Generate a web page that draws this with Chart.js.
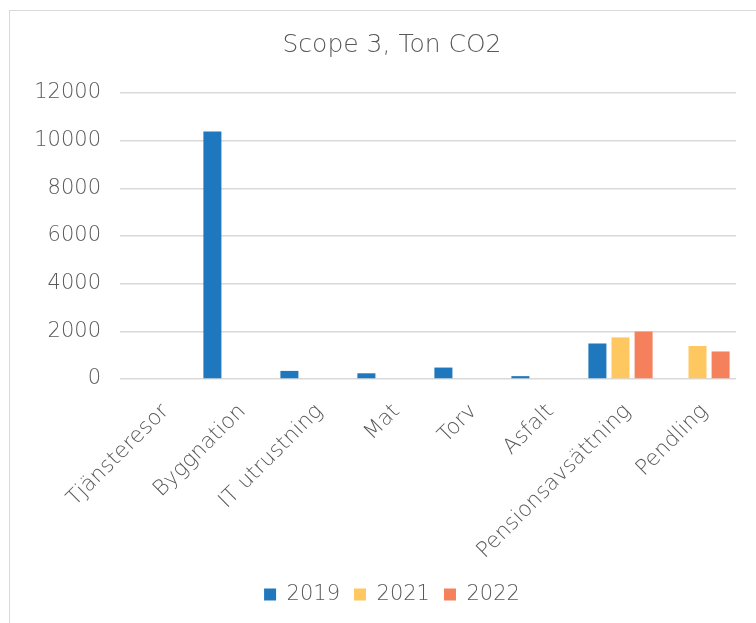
<!DOCTYPE html>
<html>
<head>
<meta charset="utf-8">
<script src="https://cdn.jsdelivr.net/npm/chart.js@4"></script>
<style>
  html, body { margin: 0; padding: 0; background: #fff; }
  #wrap { position: relative; width: 756px; height: 623px; overflow: hidden; }
  #frame {
    position: absolute; left: 9px; top: 10px; width: 800px; height: 700px;
    border-left: 1.5px solid #d9d9d9; border-top: 1.5px solid #d9d9d9;
  }
  canvas { position: absolute; left: 0; top: 0; }
</style>
</head>
<body>
<div id="wrap">
  <div id="frame"></div>
  <canvas id="scopeChart" width="756" height="623"></canvas>
</div>
<script>
// Kategorier och värden (ton CO2)
const categories = ["Tjänsteresor", "Byggnation", "IT utrustning", "Mat", "Torv", "Asfalt", "Pensionsavsättning", "Pendling"];
const values2019 = [null, 10380, 340, 240, 480, 120, 1490, null];
const values2021 = [null, null, null, null, null, null, 1745, 1385];
const values2022 = [null, null, null, null, null, null, 1990, 1155];
const yTicks = [0, 2000, 4000, 6000, 8000, 10000, 12000];

const FONT = "'DejaVu Sans', sans-serif";
const TEXT = "#595959";

function makeSet(label, data, color) {
    return {
        label,
        data,
        backgroundColor: color,
        borderWidth: 0,
        categoryPercentage: 0.9,
        barPercentage: 0.78
    };
}

// flyttar rubrik och legend lite åt höger, som i Excel-originalet
const centerShift = {
    id: "centerShift",
    afterLayout(chart) {
        for (const box of [chart.legend, chart.titleBlock]) {
            if (!box) continue;
            box.left += 24;
            box.right += 24;
        }
    }
};

const ctx = document.getElementById("scopeChart").getContext("2d");

new Chart(ctx, {
    type: "bar",
    data: {
        labels: categories,
        datasets: [
            makeSet("2019", values2019, "#1f78be"),
            makeSet("2021", values2021, "#ffc75f"),
            makeSet("2022", values2022, "#f5805c")
        ]
    },
    plugins: [centerShift],
    options: {
        responsive: false,
        animation: false,
        layout: { padding: { left: 0, right: 20, top: 0, bottom: 8 } },
        plugins: {
            title: {
                display: true,
                text: "Scope 3, Ton CO2",
                color: TEXT,
                font: { family: FONT, size: 25, weight: 200 },
                padding: { top: 30, bottom: 33 }
            },
            legend: {
                position: "bottom",
                labels: {
                    color: TEXT,
                    font: { family: FONT, size: 21, weight: 200 },
                    boxWidth: 12,
                    boxHeight: 12,
                    padding: 14
                }
            },
            tooltip: { enabled: false }
        },
        scales: {
            x: {
                grid: { display: false },
                border: { display: false },
                ticks: {
                    color: TEXT,
                    font: { family: FONT, size: 21.5, weight: 200 },
                    maxRotation: 45,
                    minRotation: 45,
                    padding: 12,
                    labelOffset: 7
                },
                afterFit(scale) { scale.height = 191; }
            },
            y: {
                min: 0,
                max: 12000,
                afterBuildTicks(scale) { scale.ticks = yTicks.map(v => ({ value: v })); },
                grid: { color: "#d9d9d9", lineWidth: 1.5, drawTicks: false },
                border: { display: false },
                ticks: {
                    color: TEXT,
                    font: { family: FONT, size: 21, weight: 200 },
                    padding: 19,
                    callback: v => String(v)
                },
                afterFit(scale) { scale.width = 120; }
            }
        }
    }
});
</script>
</body>
</html>
